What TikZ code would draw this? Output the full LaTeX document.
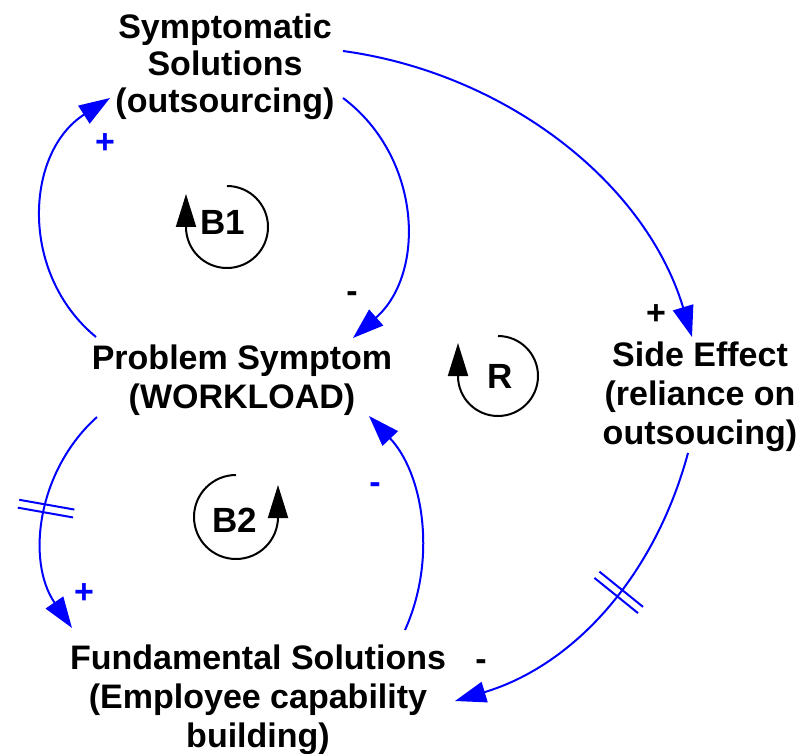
\documentclass[tikz,border=0pt]{standalone}
\usepackage{fontspec}
\setmainfont{Liberation Sans}
\usetikzlibrary{arrows.meta,decorations.markings}
\definecolor{linkblue}{RGB}{0,0,255}
\begin{document}
\begin{tikzpicture}[x=1pt,y=-1pt,
  var/.style={font=\bfseries\fontsize{34}{39}\selectfont, align=center, inner sep=0pt},
  link/.style={draw=linkblue, line width=2pt, -{Triangle[length=31pt,width=21pt]}},
  sign/.style={font=\bfseries\fontsize{34}{34}\selectfont, inner sep=0pt},
  loopname/.style={font=\bfseries\fontsize{35}{35}\selectfont, inner sep=0pt},
  loopline/.style={draw=black, line width=2pt},
  looptip/.style={-{Triangle[length=33pt,width=20pt]}},
  delaymark/.style={postaction={decorate}, decoration={markings,
    mark=at position #1 with {\draw[-, linkblue, line width=2pt] (-4,-28) -- (-4,28) (4,-28) -- (4,28);}}}
]
\useasboundingbox (0,0) rectangle (811,754);

% variables
\node[var, font=\bfseries\fontsize{34}{37}\selectfont] (ss) at (225,67) {Symptomatic\\Solutions\\(outsourcing)};
\node[var] (ps) at (242,380) {Problem Symptom\\(WORKLOAD)};
\node[var] (se) at (700,397) {Side Effect\\(reliance on\\outsoucing)};
\node[var] (fs) at (258,700) {Fundamental Solutions\\(Employee capability\\building)};

% causal links
\draw[link] ([shift={(-146,-43)}]ps.center) .. controls (18.5,273.1) and (25.3,152.1) .. ([shift={(-115,31)}]ss.center);
\draw[link] ([shift={(118,31)}]ss.center) .. controls (421.5,156.8) and (426.5,273.0) .. ([shift={(111,-42)}]ps.center);
\draw[link] ([shift={(118,-16)}]ss.center) .. controls (504,73) and (645,181) .. ([shift={(-8,-60)}]se.center);
\draw[link, delaymark=0.44] ([shift={(-12,56)}]se.center) .. controls (655,575) and (575,665) .. ([shift={(197,1)}]fs.center);
\draw[link] ([shift={(147,-70)}]fs.center) .. controls (437.4,558.2) and (423.1,473.3) .. ([shift={(127,36)}]ps.center);
\draw[link, delaymark=0.46] ([shift={(-145,37)}]ps.center) .. controls (36.9,470.9) and (26.1,561.4) .. ([shift={(-186,-72)}]fs.center);

% polarities
\node[sign, text=linkblue] (p1) at (105,144) {+};
\node[sign] (p2) at (352,297) {-};
\node[sign] (p3) at (656,315) {+};
\node[sign] (p4) at (481,665) {-};
\node[sign, text=linkblue] (p5) at (375,488) {-};
\node[sign, text=linkblue] (p6) at (84,594) {+};

% loop identifiers
\draw[loopline, looptip] (227,186) arc[start angle=-90, end angle=180, radius=41] -- (186,194);
\node[loopname] (b1) at (223,222) {B1};
\draw[loopline, looptip] (498,336) arc[start angle=-90, end angle=180, radius=40] -- (458,343);
\node[loopname] (r) at (500,376) {R};
\draw[loopline, looptip] (236,475) arc[start angle=-90, end angle=-360, radius=42] -- (278,485);
\node[loopname] (b2) at (235,520) {B2};
\end{tikzpicture}
\end{document}
